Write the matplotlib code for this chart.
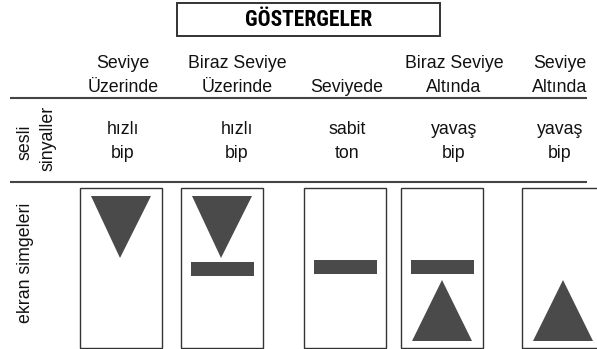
import matplotlib
matplotlib.use("Agg")
import matplotlib.pyplot as plt
from matplotlib.patches import Rectangle, Polygon

# ---- data ----
title = "GÖSTERGELER"
headers_top = ["Seviye", "Biraz Seviye", "", "Biraz Seviye", "Seviye"]
headers_bottom = ["Üzerinde", "Üzerinde", "Seviyede", "Altında", "Altında"]
sound_top = ["hızlı", "hızlı", "sabit", "yavaş", "yavaş"]
sound_bottom = ["bip", "bip", "ton", "bip", "bip"]
row_labels = ["sesli", "sinyaller", "ekran simgeleri"]
# symbols per column: down-triangle, bar, up-triangle
has_down = [True, True, False, False, False]
has_bar = [False, True, True, True, False]
has_up = [False, False, False, True, True]

# ---- layout (pixel coordinates) ----
W, H = 597, 349
text_cx = [123, 237, 347, 454, 560]
box_left = [80, 181, 304, 401, 522]
box_w = 82
box_top, box_bot = 188, 348
dark = "#4a4a4a"

fig = plt.figure(figsize=(W / 100, H / 100), dpi=100)
ax = fig.add_axes([0, 0, 1, 1])
ax.set_xlim(0, W)
ax.set_ylim(H, 0)
ax.axis("off")

font = ["Liberation Sans", "DejaVu Sans"]
fs = 12.8

# title box
ax.add_patch(Rectangle((177, 3), 263, 33, fill=False, ec="#333333", lw=1.4))
ax.text(308.5, 20.5, title, ha="center", va="center", fontsize=15.5,
        fontweight="bold", family=["Roboto Condensed", "Barlow Condensed", "DejaVu Sans"])

# headers
for cx, t1, t2 in zip(text_cx, headers_top, headers_bottom):
    if t1:
        ax.text(cx, 64, t1, ha="center", va="center", fontsize=fs, family=font, color="#111111")
    ax.text(cx, 88, t2, ha="center", va="center", fontsize=fs, family=font, color="#111111")

# rules
ax.plot([10, 587], [98, 98], color="#444444", lw=1.5, solid_capstyle="butt")
ax.plot([10, 587], [182, 182], color="#444444", lw=1.5, solid_capstyle="butt")

# sound row
for cx, t1, t2 in zip(text_cx, sound_top, sound_bottom):
    ax.text(cx, 130, t1, ha="center", va="center", fontsize=fs, family=font, color="#111111")
    ax.text(cx, 154, t2, ha="center", va="center", fontsize=fs, family=font, color="#111111")

# row labels
ax.text(25, 142, row_labels[0], rotation=90, ha="center", va="center", fontsize=fs, family=font, color="#111111")
ax.text(48, 138, row_labels[1], rotation=90, ha="center", va="center", fontsize=fs, family=font, color="#111111")
ax.text(25, 263, row_labels[2], rotation=90, ha="center", va="center", fontsize=fs, family=font, color="#111111")

# display symbols
for i, x0 in enumerate(box_left):
    ax.add_patch(Rectangle((x0, box_top), box_w, box_bot - box_top, fill=False,
                           ec="#333333", lw=1.0))
    cx = x0 + box_w / 2
    if has_down[i]:
        ax.add_patch(Polygon([(cx - 30, 196), (cx + 30, 196), (cx - 1, 258)],
                             closed=True, fc=dark, ec="none"))
    if has_bar[i]:
        y0 = 262 if has_down[i] else 259.5
        ax.add_patch(Rectangle((cx - 31.5, y0), 63, 14, fc=dark, ec="none"))
    if has_up[i]:
        ax.add_patch(Polygon([(cx - 30, 341), (cx + 30, 341), (cx, 280)],
                             closed=True, fc=dark, ec="none"))

fig.savefig("out.png", dpi=100)
